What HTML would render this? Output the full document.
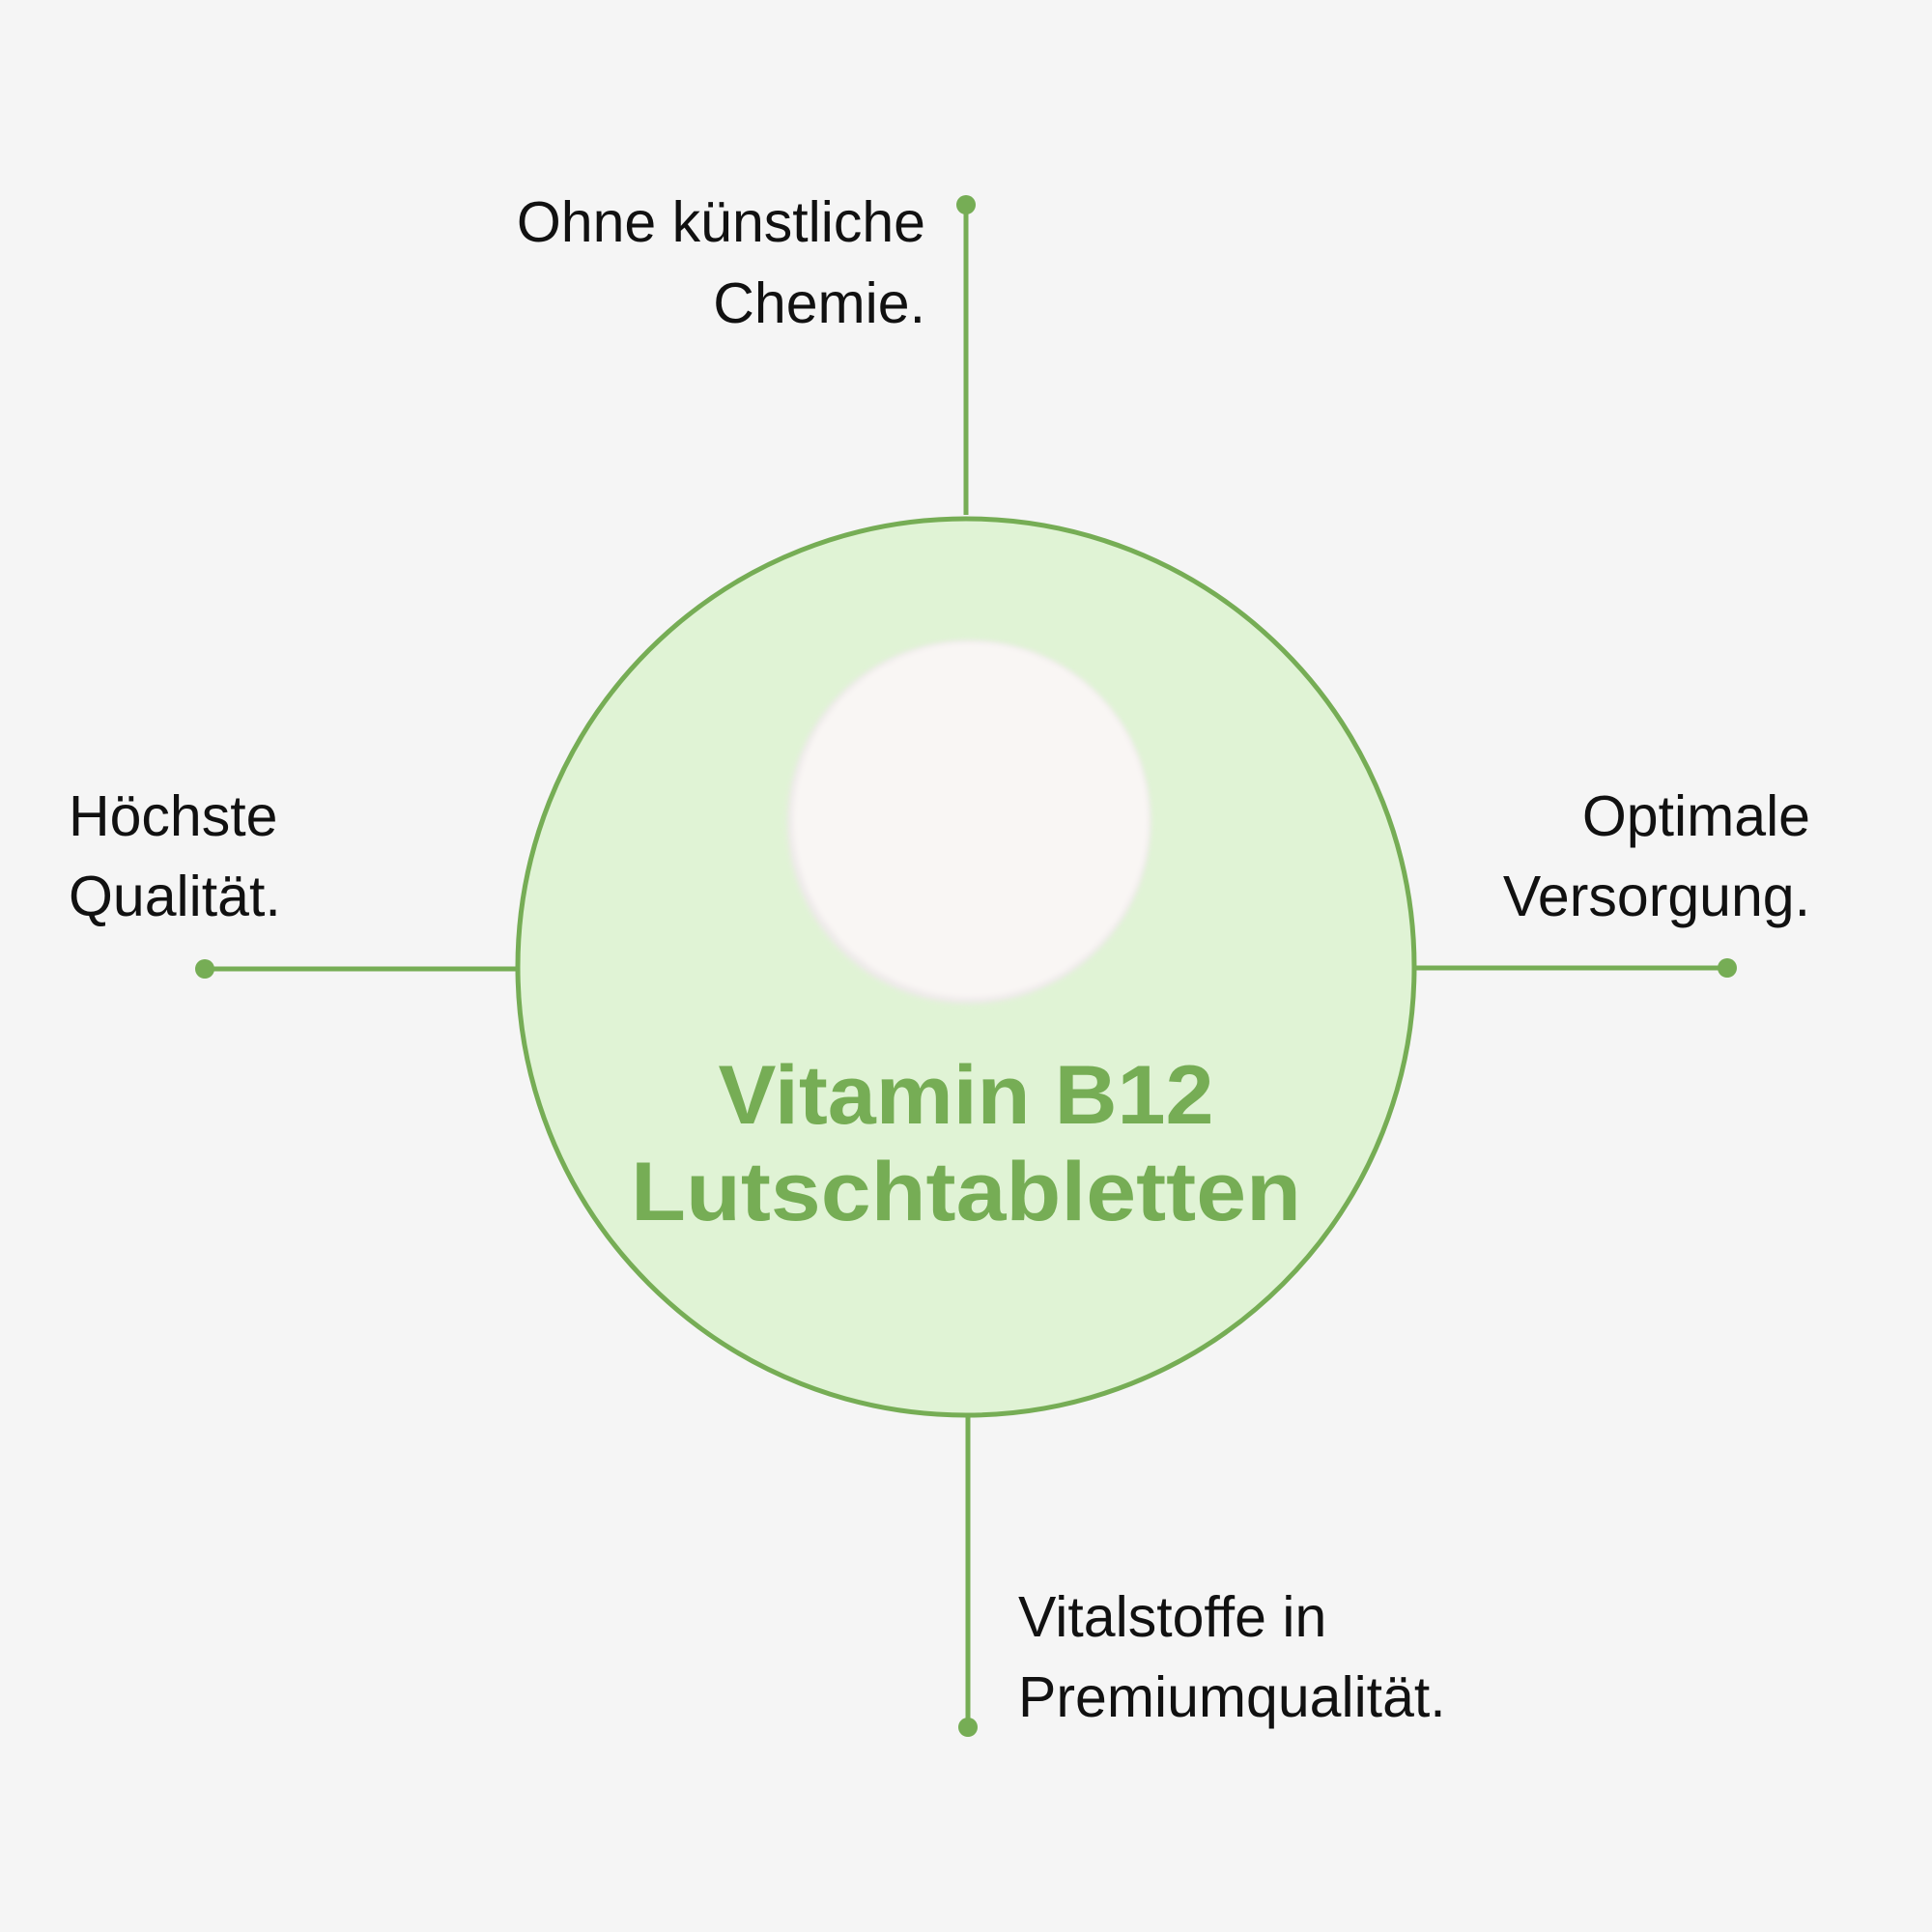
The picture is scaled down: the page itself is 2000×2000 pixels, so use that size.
<!DOCTYPE html>
<html><head><meta charset="utf-8"><style>
html,body{margin:0;padding:0;background:#f5f5f5;}
svg{display:block;}
</style></head><body>
<svg width="2000" height="2000" viewBox="0 0 2000 2000" xmlns="http://www.w3.org/2000/svg">
<defs><filter id="b" x="-20%" y="-20%" width="140%" height="140%"><feGaussianBlur stdDeviation="3"/></filter></defs>
<rect width="2000" height="2000" fill="#f5f5f5"/>
<g stroke="#76ad55" stroke-width="5" fill="none">
<line x1="1000" y1="212" x2="1000" y2="533"/>
<line x1="212" y1="1003" x2="536" y2="1003"/>
<line x1="1464" y1="1002" x2="1788" y2="1002"/>
<line x1="1002" y1="1467" x2="1002" y2="1788"/>
<circle cx="1000" cy="1001" r="464" fill="#e0f3d5"/>
</g>
<g fill="#76ad55">
<circle cx="1000" cy="212" r="10"/>
<circle cx="212" cy="1003" r="10"/>
<circle cx="1788" cy="1002" r="10"/>
<circle cx="1002" cy="1788" r="10"/>
</g>
<circle cx="1003" cy="851" r="188" fill="#eeeaea" filter="url(#b)"/>
<circle cx="1005" cy="849" r="184" fill="#f9f6f4" filter="url(#b)"/>
<g font-family="Liberation Sans, sans-serif" font-size="59" fill="#111">
<text x="958" y="250" text-anchor="end">Ohne künstliche</text>
<text x="958" y="334" text-anchor="end">Chemie.</text>
<text x="71" y="865">Höchste</text>
<text x="71" y="948">Qualität.</text>
<text x="1874" y="865" text-anchor="end">Optimale</text>
<text x="1874" y="948" text-anchor="end">Versorgung.</text>
<text x="1054" y="1694">Vitalstoffe in</text>
<text x="1054" y="1777">Premiumqualität.</text>
</g>
<g font-family="Liberation Sans, sans-serif" font-weight="bold" font-size="86" fill="#76ad55" text-anchor="middle">
<text x="1000" y="1163" textLength="513" lengthAdjust="spacingAndGlyphs">Vitamin B12</text>
<text x="1000" y="1263" textLength="694" lengthAdjust="spacingAndGlyphs">Lutschtabletten</text>
</g>
</svg>
</body></html>
